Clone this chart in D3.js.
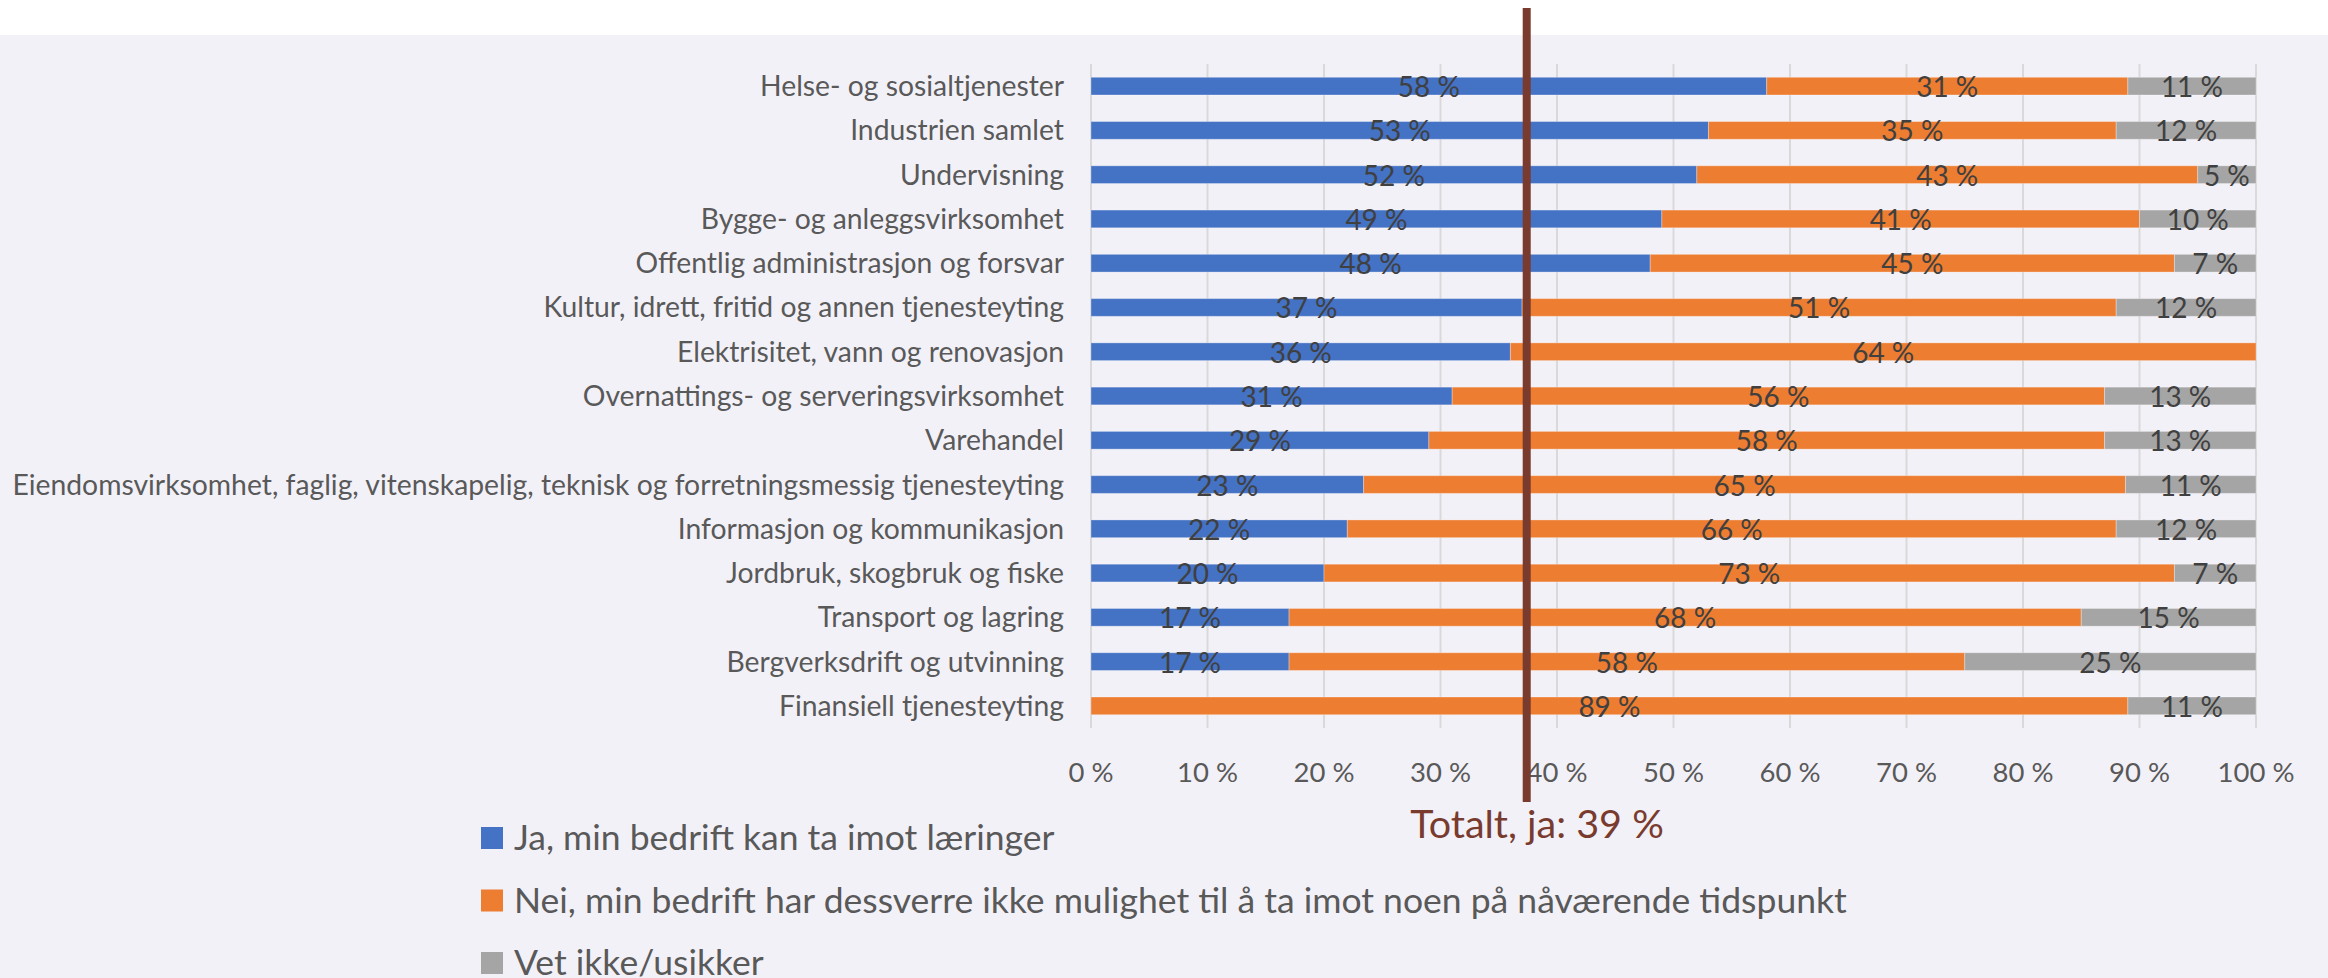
<!DOCTYPE html>
<html>
<head>
<meta charset="utf-8">
<script src="https://cdn.jsdelivr.net/npm/d3@7"></script>
<style>
  html, body { margin: 0; padding: 0; background: #ffffff; }
  svg { display: block; }
</style>
</head>
<body>
<div id="chart"></div>
<script>
// ---- data ----
const categories = [
  "Helse- og sosialtjenester",
  "Industrien samlet",
  "Undervisning",
  "Bygge- og anleggsvirksomhet",
  "Offentlig administrasjon og forsvar",
  "Kultur, idrett, fritid og annen tjenesteyting",
  "Elektrisitet, vann og renovasjon",
  "Overnattings- og serveringsvirksomhet",
  "Varehandel",
  "Eiendomsvirksomhet, faglig, vitenskapelig, teknisk og forretningsmessig tjenesteyting",
  "Informasjon og kommunikasjon",
  "Jordbruk, skogbruk og fiske",
  "Transport og lagring",
  "Bergverksdrift og utvinning",
  "Finansiell tjenesteyting"
];
const jaValues    = [58, 53, 52, 49, 48, 37, 36, 31, 29, 23.4, 22, 20, 17, 17, 0];
const neiValues   = [31, 35, 43, 41, 45, 51, 64, 56, 58, 65.4, 66, 73, 68, 58, 89];
const vetValues   = [11, 12, 5, 10, 7, 12, 0, 13, 13, 11.2, 12, 7, 15, 25, 11];
const seriesNames = [
  "Ja, min bedrift kan ta imot læringer",
  "Nei, min bedrift har dessverre ikke mulighet til å ta imot noen på nåværende tidspunkt",
  "Vet ikke/usikker"
];
const seriesColors = ["#4472C4", "#ED7D31", "#A5A5A5"];
const xTicks = [0, 10, 20, 30, 40, 50, 60, 70, 80, 90, 100];
const markerPosition = 37.4;   // where the "Totalt" line is drawn on the axis
const totalLabel = "Totalt, ja: 39 %";

// ---- layout ----
const W = 2328, H = 978;
const FONT = "Lato, 'Open Sans', sans-serif";
const svg = d3.select("#chart").append("svg").attr("width", W).attr("height", H);

svg.append("rect").attr("x", 0).attr("y", 0).attr("width", W).attr("height", H).attr("fill", "#ffffff");
svg.append("rect").attr("x", 0).attr("y", 35).attr("width", W).attr("height", H - 35).attr("fill", "#F3F1F8");

const x = d3.scaleLinear().domain([0, 100]).range([1091, 2256]);
const y = d3.scaleBand().domain(categories).range([64, 728]).paddingInner(0.6).paddingOuter(0.3);

// gridlines
svg.append("g").selectAll("line").data(xTicks).join("line")
  .attr("x1", d => x(d)).attr("x2", d => x(d))
  .attr("y1", 64).attr("y2", 728)
  .attr("stroke", "#D9D9D9").attr("stroke-width", 2);

// tick labels
svg.append("g").selectAll("text").data(xTicks).join("text")
  .attr("x", d => x(d)).attr("y", 782)
  .attr("text-anchor", "middle")
  .attr("font-family", FONT).attr("font-size", 27.5).attr("fill", "#595959")
  .text(d => d + " %");

// stacked data
const rows = categories.map((c, i) => ({ cat: c, v: [jaValues[i], neiValues[i], vetValues[i]] }));
const segs = [];
rows.forEach(r => {
  let acc = 0;
  r.v.forEach((v, k) => {
    segs.push({ cat: r.cat, k, x0: acc, x1: acc + v, v });
    acc += v;
  });
});

svg.append("g").selectAll("rect").data(segs.filter(s => s.v > 0)).join("rect")
  .attr("x", d => x(d.x0)).attr("width", d => x(d.x1) - x(d.x0))
  .attr("y", d => y(d.cat)).attr("height", y.bandwidth())
  .attr("fill", d => seriesColors[d.k])
  .attr("stroke", "rgba(255,255,255,0.3)").attr("stroke-width", 1);

// value labels
svg.append("g").selectAll("text").data(segs.filter(s => s.v > 0)).join("text")
  .attr("x", d => (x(d.x0) + x(d.x1)) / 2)
  .attr("y", d => y(d.cat) + y.bandwidth() / 2 + 11)
  .attr("text-anchor", "middle")
  .attr("font-family", FONT).attr("font-size", 28).attr("fill", "#404040")
  .text(d => Math.round(d.v) + " %");

// category labels
svg.append("g").selectAll("text").data(categories).join("text")
  .attr("x", 1064)
  .attr("y", d => y(d) + y.bandwidth() / 2 + 10)
  .attr("text-anchor", "end")
  .attr("font-family", FONT).attr("font-size", 28.3).attr("fill", "#595959")
  .text(d => d);

// total marker line
svg.append("line")
  .attr("x1", x(markerPosition)).attr("x2", x(markerPosition))
  .attr("y1", 8).attr("y2", 802)
  .attr("stroke", "#783B2E").attr("stroke-width", 8);

svg.append("text")
  .attr("x", 1537).attr("y", 838)
  .attr("text-anchor", "middle")
  .attr("font-family", FONT).attr("font-size", 39.5).attr("fill", "#783B2E")
  .text(totalLabel);

// legend
const legend = svg.append("g").selectAll("g").data(seriesNames).join("g")
  .attr("transform", (d, i) => `translate(481, ${827 + i * 62.5})`);
legend.append("rect").attr("width", 22).attr("height", 22).attr("fill", (d, i) => seriesColors[i]);
legend.append("text").attr("x", 33).attr("y", 23)
  .attr("font-family", FONT).attr("font-size", 35.5).attr("fill", "#595959")
  .text(d => d);
</script>
</body>
</html>
